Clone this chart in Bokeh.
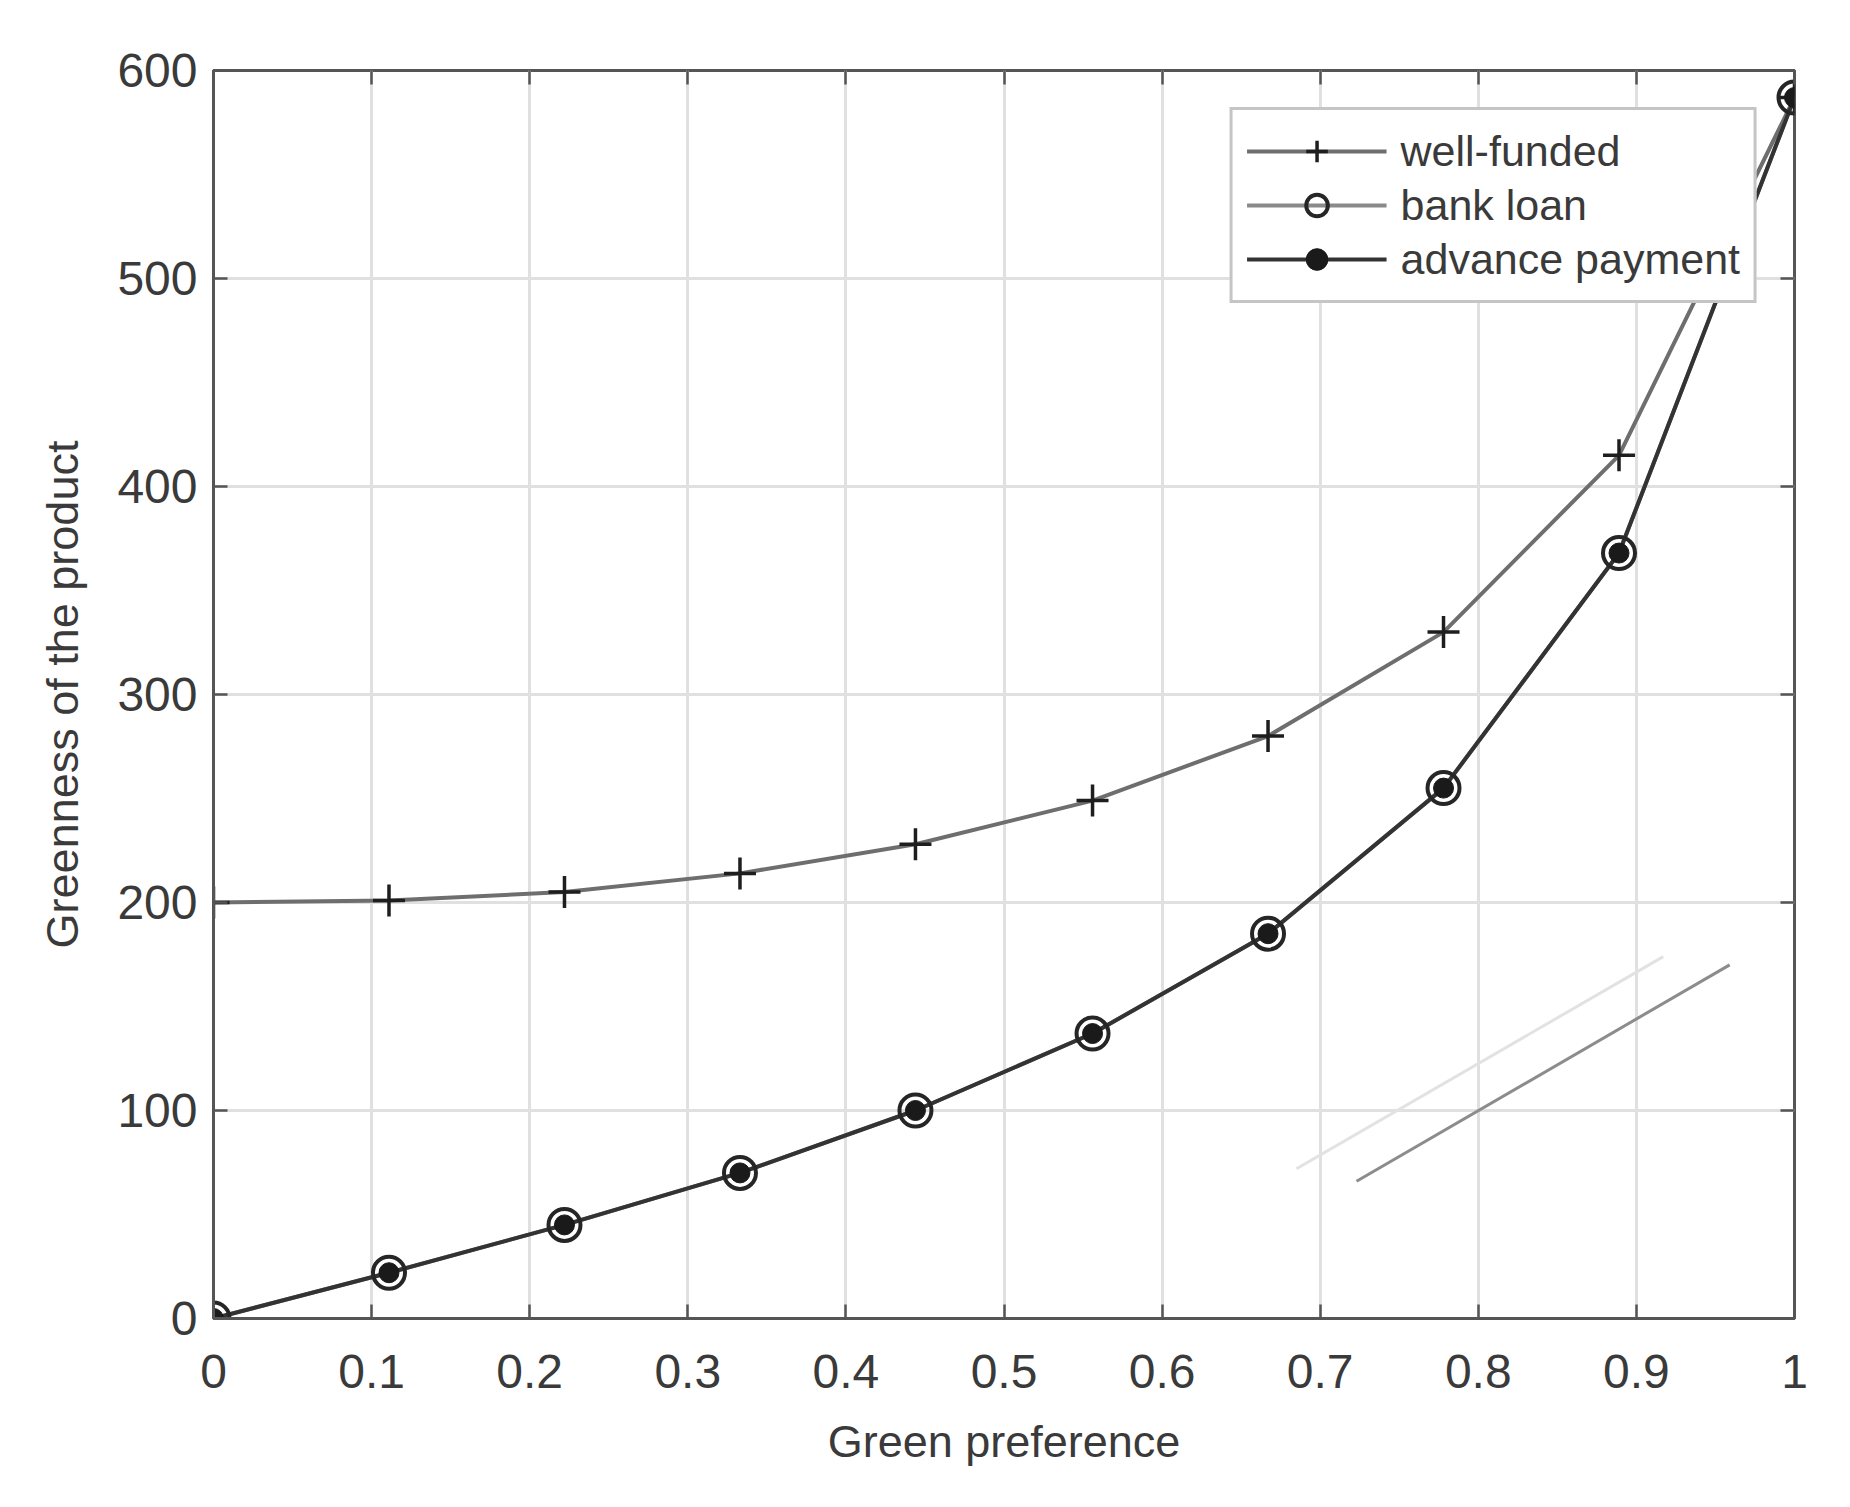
from bokeh.plotting import figure
from bokeh.models import Range1d, FixedTicker, LinearAxis, Legend, LegendItem
from bokeh.embed import file_html
from bokeh.resources import INLINE

# ---- data ----
green_preference = [0.0, 0.111, 0.222, 0.333, 0.444, 0.556, 0.667, 0.778, 0.889, 1.0]
well_funded = [200, 201, 205, 214, 228, 249, 280, 330, 415, 587]
bank_loan = [0, 22, 45, 70, 100, 137, 185, 255, 368, 587]
advance_payment = [0, 22, 45, 70, 100, 137, 185, 255, 368, 587]

x_ticks = [0, 0.1, 0.2, 0.3, 0.4, 0.5, 0.6, 0.7, 0.8, 0.9, 1]
x_tick_labels = ["0", "0.1", "0.2", "0.3", "0.4", "0.5", "0.6", "0.7", "0.8", "0.9", "1"]
y_ticks = [0, 100, 200, 300, 400, 500, 600]
y_tick_labels = ["0", "100", "200", "300", "400", "500", "600"]

# two stray strokes visible in the lower right of the scanned figure
stray_x0 = [0.685, 0.723]
stray_y0 = [72, 66]
stray_x1 = [0.917, 0.959]
stray_y1 = [174, 170]
stray_colors = ["#e2e2e2", "#8c8c8c"]

FONT = "Liberation Sans"
TXT = "#3a3a3a"
AX = "#555555"

p = figure(width=1842, height=1492, output_backend="svg", toolbar_location=None,
           x_range=Range1d(0, 1), y_range=Range1d(0, 600),
           min_border_left=213, min_border_top=70, min_border_right=48, min_border_bottom=174)

p.background_fill_color = "white"
p.outline_line_color = AX
p.outline_line_width = 3

for ax, ticks, labels in ((p.xaxis[0], x_ticks, x_tick_labels), (p.yaxis[0], y_ticks, y_tick_labels)):
    ax.ticker = FixedTicker(ticks=ticks)
    ax.major_label_overrides = dict(zip(ticks, labels))
    ax.major_label_text_font = FONT
    ax.major_label_text_font_size = "48px"
    ax.major_label_text_color = TXT
    ax.axis_label_text_font = FONT
    ax.axis_label_text_font_size = "45px"
    ax.axis_label_text_font_style = "normal"
    ax.axis_label_text_color = TXT
    ax.axis_line_color = AX
    ax.axis_line_width = 3
    ax.major_tick_in = 14
    ax.major_tick_out = 0
    ax.major_tick_line_color = AX
    ax.major_tick_line_width = 2.5
    ax.minor_tick_line_color = None

p.xaxis.axis_label = "Green preference"
p.yaxis.axis_label = "Greenness of the product"
p.xaxis.major_label_standoff = 36
p.xaxis.axis_label_standoff = 25
p.yaxis.major_label_standoff = 16
p.yaxis.axis_label_standoff = 26

for side, ticks in (("right", y_ticks), ("above", x_ticks)):
    ax = LinearAxis(ticker=FixedTicker(ticks=ticks))
    ax.major_label_overrides = {t: "" for t in ticks}
    ax.major_label_text_font_size = "0px"
    ax.major_label_standoff = 0
    ax.axis_line_color = None
    ax.major_tick_in = 14
    ax.major_tick_out = 0
    ax.major_tick_line_color = AX
    ax.major_tick_line_width = 2.5
    ax.minor_tick_line_color = None
    p.add_layout(ax, side)

p.xgrid.ticker = FixedTicker(ticks=x_ticks)
p.ygrid.ticker = FixedTicker(ticks=y_ticks)
p.grid.grid_line_color = "#e0e0e0"
p.grid.grid_line_width = 3

p.segment(x0=stray_x0, y0=stray_y0, x1=stray_x1, y1=stray_y1, line_color=stray_colors, line_width=3)

l_wf = p.line(green_preference, well_funded, line_color="#6e6e6e", line_width=4)
s_wf = p.scatter(green_preference, well_funded, marker="cross", size=32, line_color="#1e1e1e", line_width=3.5)

l_bl = p.line(green_preference, bank_loan, line_color="#8a8a8a", line_width=4)
l_ap = p.line(green_preference, advance_payment, line_color="#333333", line_width=4)
s_bl = p.scatter(green_preference, bank_loan, marker="circle", size=32, fill_color=None,
                 line_color="#262626", line_width=4)
s_ap = p.scatter(green_preference, advance_payment, marker="circle", size=20,
                 fill_color="#1a1a1a", line_color="#1a1a1a", line_width=1)

legend = Legend(items=[
    LegendItem(label="well-funded", renderers=[l_wf, s_wf]),
    LegendItem(label="bank loan", renderers=[l_bl, s_bl]),
    LegendItem(label="advance payment", renderers=[l_ap, s_ap]),
], location="top_right")
legend.margin = 37
legend.padding = 14
legend.spacing = 0
legend.glyph_width = 140
legend.glyph_height = 54
legend.label_height = 54
legend.label_standoff = 14
legend.label_text_font = FONT
legend.label_text_font_size = "43px"
legend.label_text_color = TXT
legend.border_line_color = "#8c8c8c"
legend.border_line_width = 3
legend.background_fill_color = "white"
legend.background_fill_alpha = 1.0
p.add_layout(legend)

open("out.html", "w").write(file_html(p, INLINE))
